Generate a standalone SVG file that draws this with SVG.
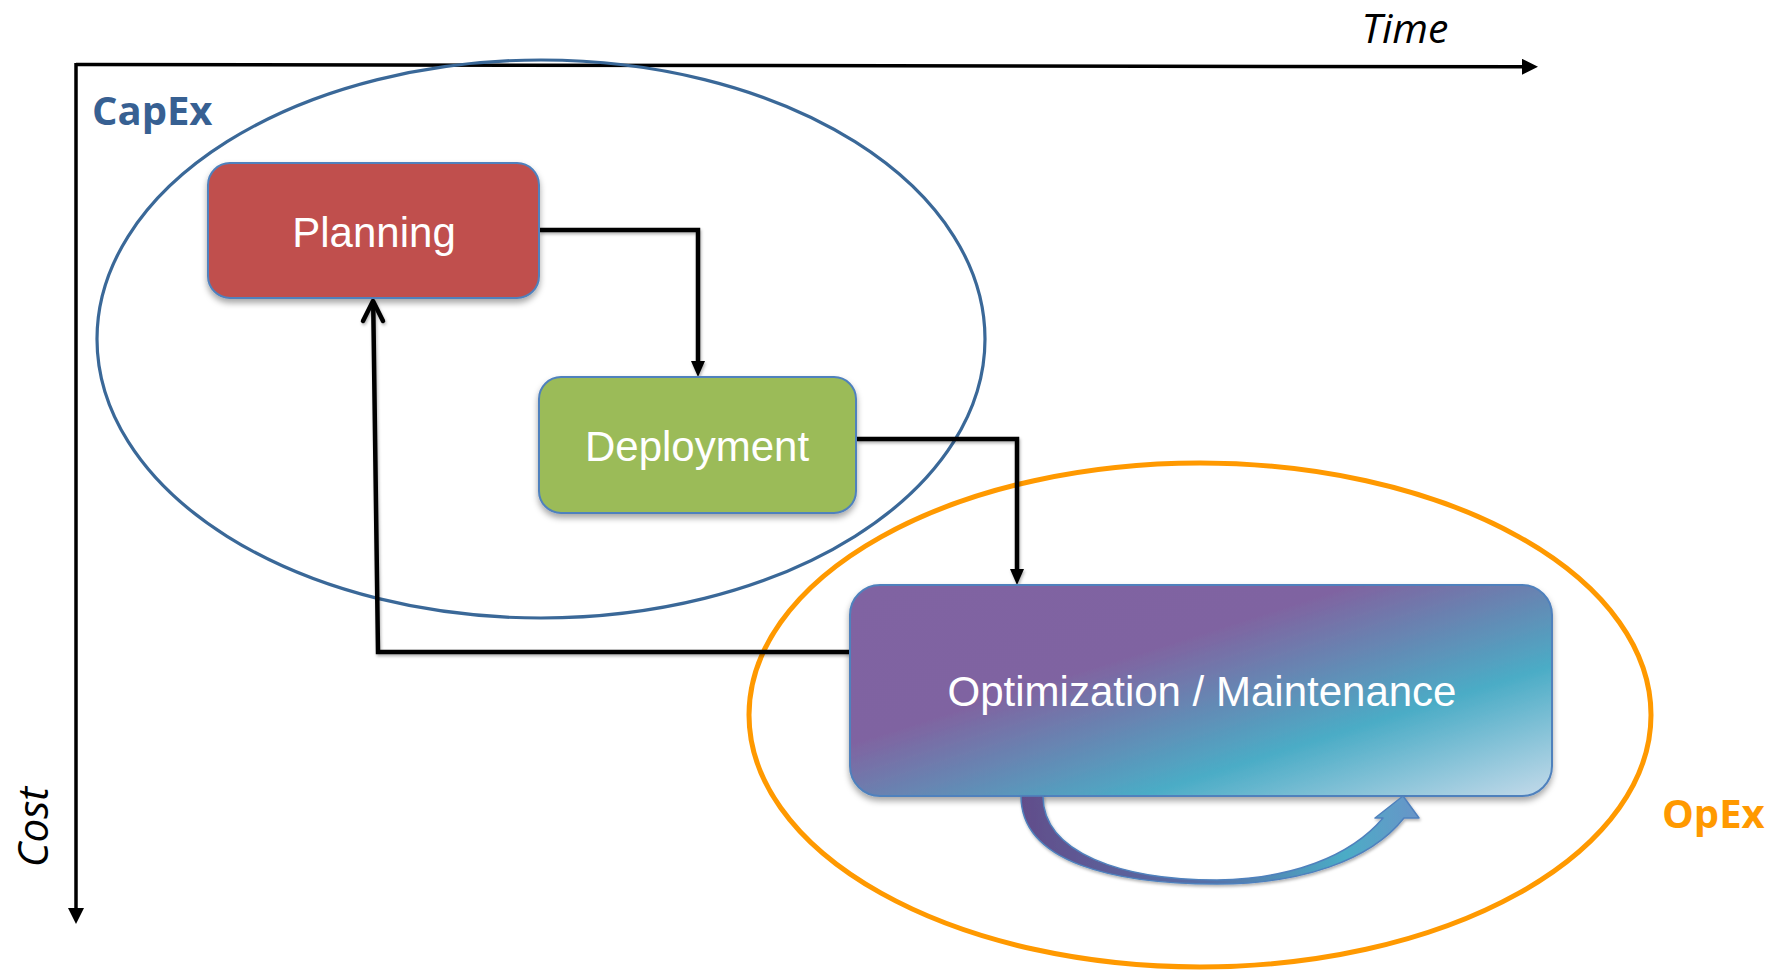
<svg xmlns="http://www.w3.org/2000/svg" width="1782" height="970" viewBox="0 0 1782 970">
  <style>
    .axis { stroke: #000; stroke-width: 3.5; fill: none; }
    .conn { stroke: #000; stroke-width: 4.5; fill: none; }
    .box { stroke: #4F81BD; stroke-width: 2; }
    .label { font-family: "Liberation Sans", Arial, sans-serif; font-size: 42px; fill: #fff; text-anchor: middle; }
    .axlabel { font-family: "Open Sans", "Liberation Sans", sans-serif; font-size: 42px; font-style: italic; fill: #000; }
    .grp { font-family: "Open Sans", "Liberation Sans", sans-serif; font-size: 40px; font-weight: bold; }
  </style>
  <defs>
    <marker id="tri" viewBox="0 0 16 16" markerWidth="16" markerHeight="16" refX="6" refY="8" orient="auto" markerUnits="userSpaceOnUse">
      <path d="M0,0 L16,8 L0,16 Z" fill="#000"/>
    </marker>
    <marker id="triS" viewBox="0 0 16 14" markerWidth="16" markerHeight="14" refX="6" refY="7" orient="auto" markerUnits="userSpaceOnUse">
      <path d="M0,0 L16,7 L0,14 Z" fill="#000"/>
    </marker>
    <filter id="shadow" x="-10%" y="-10%" width="120%" height="130%">
      <feDropShadow dx="0" dy="4" stdDeviation="3" flood-color="#000" flood-opacity="0.35"/>
    </filter>
    <filter id="lshadow" x="-10%" y="-10%" width="120%" height="120%">
      <feDropShadow dx="1" dy="2" stdDeviation="1.5" flood-color="#000" flood-opacity="0.3"/>
    </filter>
    <linearGradient id="optGrad" gradientUnits="userSpaceOnUse" x1="850" y1="585" x2="974" y2="978">
      <stop offset="0" stop-color="#8064A2"/>
      <stop offset="0.37" stop-color="#7F64A1"/>
      <stop offset="0.7" stop-color="#4BACC6"/>
      <stop offset="1" stop-color="#C4DAEA"/>
    </linearGradient>
    <linearGradient id="arrGrad" gradientUnits="userSpaceOnUse" x1="1021" y1="840" x2="1420" y2="800">
      <stop offset="0" stop-color="#624D8A"/>
      <stop offset="0.45" stop-color="#5670A8"/>
      <stop offset="0.8" stop-color="#4BACC6"/>
      <stop offset="1" stop-color="#6A94C8"/>
    </linearGradient>
  </defs>
  <rect width="1782" height="970" fill="#fff"/>

  <g id="axes">
    <path class="axis" d="M76,64.5 L1528,66.8" marker-end="url(#tri)"/>
    <path class="axis" d="M76,63 L76,914" marker-end="url(#tri)"/>
    <text class="axlabel" x="1405" y="43" text-anchor="middle" style="font-size:41px">Time</text>
    <text class="axlabel" text-anchor="middle" transform="translate(48,827) rotate(-90)">Cost</text>
  </g>

  <g id="capex">
    <ellipse cx="541" cy="339" rx="444" ry="279" fill="none" stroke="#3A6898" stroke-width="3.2"/>
    <text class="grp" x="92" y="125" fill="#376092">CapEx</text>
  </g>

  <g id="opex">
    <ellipse cx="1200" cy="715" rx="451" ry="252" fill="none" stroke="#FF9900" stroke-width="5"/>
    <text class="grp" x="1662" y="828" fill="#FF9900">OpEx</text>
  </g>

  <g id="connectors" filter="url(#lshadow)">
    <path class="conn" d="M539,230 L698,230 L698,367" marker-end="url(#triS)"/>
    <path class="conn" d="M857,439 L1017,439 L1017,575" marker-end="url(#triS)"/>
    <path class="conn" d="M850,652 L378,652 L373.2,302"/>
    <path class="conn" d="M363,321 L373,301 L383,321" stroke-linecap="round" stroke-linejoin="round"/>
  </g>

  <g id="planning">
    <rect class="box" x="208" y="163" width="331" height="135" rx="22" fill="#C0504D" filter="url(#shadow)"/>
    <text class="label" x="374" y="247">Planning</text>
  </g>

  <g id="deployment">
    <rect class="box" x="539" y="377" width="317" height="136" rx="22" fill="#9BBB59" filter="url(#shadow)"/>
    <text class="label" x="697" y="461">Deployment</text>
  </g>

  <g id="optimization">
    <rect class="box" x="850" y="585" width="702" height="211" rx="30" fill="url(#optGrad)" filter="url(#shadow)"/>
    <text class="label" x="1202" y="706">Optimization / Maintenance</text>
    <path d="M1021,796 C1021,863 1115,884 1217,884 C1300,884 1370,861 1404,818 L1419,818 L1403,796 L1375,818 L1383,818 C1350,857 1290,879 1217,880 C1122,880 1043,853 1043,796 Z" fill="url(#arrGrad)" stroke="#4F81BD" stroke-width="1.5" stroke-linejoin="round" filter="url(#lshadow)"/>
  </g>
</svg>
